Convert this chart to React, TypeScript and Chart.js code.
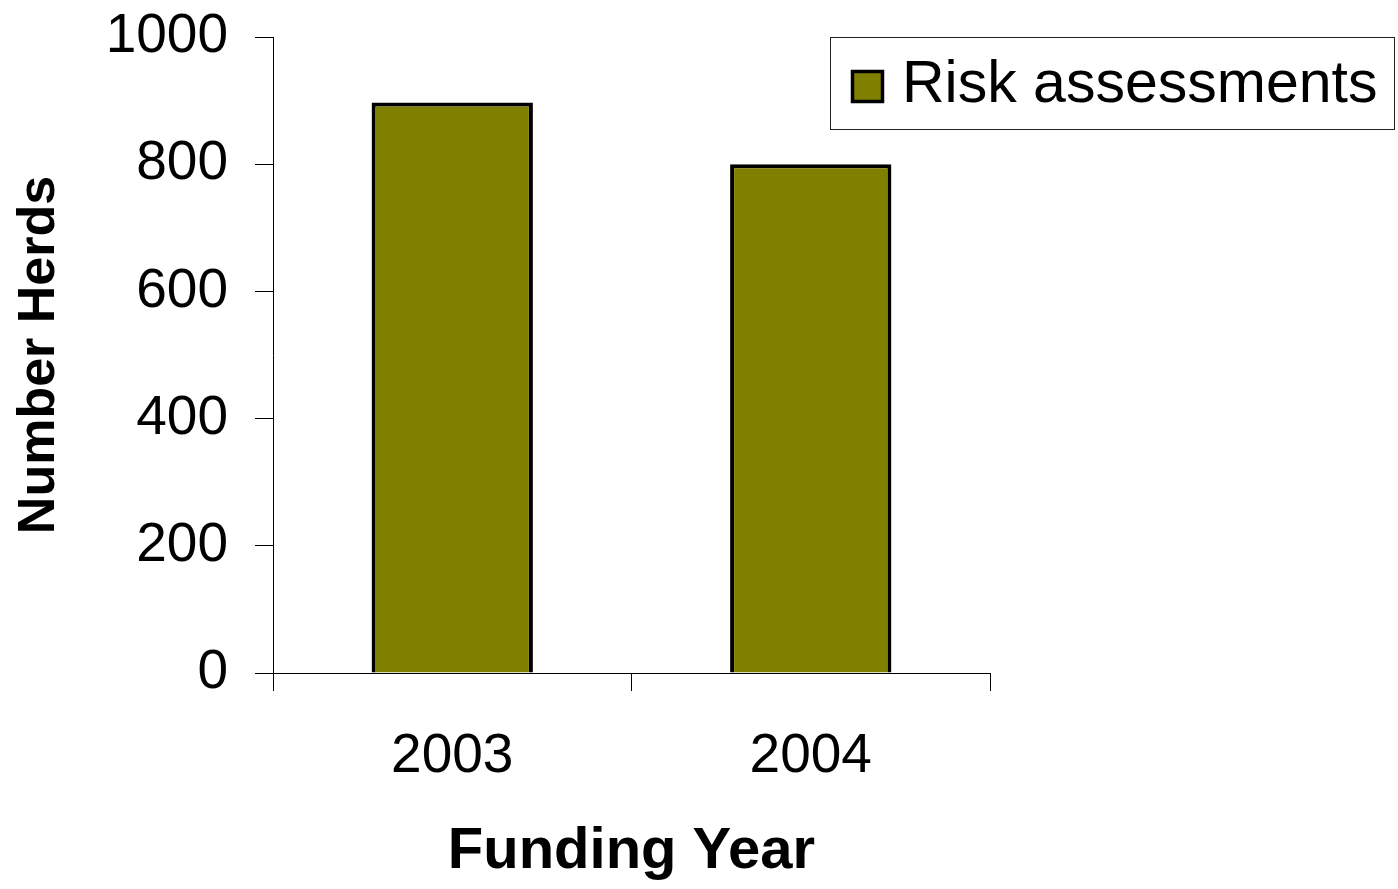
import React, { useEffect, useRef } from "react";
import { Chart, registerables } from "chart.js";

Chart.register(...registerables);

const categories = ["2003", "2004"];
const riskAssessments = [897, 800];
const seriesLabel = "Risk assessments";
const yTicks = [0, 200, 400, 600, 800, 1000];
const xTitle = "Funding Year";
const yTitle = "Number Herds";

const FONT = "'Liberation Sans', Arial, sans-serif";
const OLIVE = "#808000";

const boxLegend = {
  id: "boxLegend",
  afterDraw(chart: any) {
    const { ctx } = chart;
    const ds = chart.data.datasets[0];
    ctx.save();
    ctx.strokeStyle = "#222";
    ctx.lineWidth = 1;
    ctx.strokeRect(830.5, 37.5, 564, 92);
    ctx.fillStyle = ds.backgroundColor;
    ctx.fillRect(852, 71, 31, 31);
    ctx.strokeStyle = "#000";
    ctx.lineWidth = 3.5;
    ctx.strokeRect(852.5, 71.5, 30, 30);
    ctx.fillStyle = "#000";
    ctx.font = `59px ${FONT}`;
    ctx.textBaseline = "alphabetic";
    ctx.textAlign = "left";
    ctx.fillText(ds.label, 902, 102);
    ctx.restore();
  },
};

export default function App() {
  const ref = useRef<HTMLCanvasElement | null>(null);
  useEffect(() => {
    if (!ref.current) return;
    const chart = new Chart(ref.current, {
      type: "bar",
      data: {
        labels: categories,
        datasets: [
          {
            label: seriesLabel,
            data: riskAssessments,
            backgroundColor: OLIVE,
            borderColor: "#000",
            borderWidth: 4,
            barPercentage: 0.45,
            categoryPercentage: 1,
          },
        ],
      },
      options: {
        responsive: false,
        animation: false,
        layout: { padding: { top: 37, right: 408, bottom: 0, left: 0 } },
        plugins: { legend: { display: false }, tooltip: { enabled: false } },
        scales: {
          x: {
            grid: {
              drawOnChartArea: false,
              drawTicks: true,
              tickLength: 18,
              color: "#000",
              lineWidth: 1,
            },
            border: { display: true, color: "#000", width: 1 },
            ticks: {
              color: "#000",
              font: { family: FONT, size: 55 },
              padding: 33,
            },
            title: {
              display: true,
              text: xTitle,
              color: "#000",
              font: { family: FONT, size: 58, weight: "bold", lineHeight: 1 },
              padding: { top: 0, bottom: 8 },
            },
            afterFit(scale: any) {
              scale.height = 216;
              scale.paddingLeft = 0;
              scale.paddingRight = 0;
            },
          },
          y: {
            min: 0,
            max: 1000,
            afterBuildTicks(scale: any) {
              scale.ticks = yTicks.map((v) => ({ value: v }));
            },
            grid: {
              drawOnChartArea: false,
              drawTicks: true,
              tickLength: 18,
              color: "#000",
              lineWidth: 1,
            },
            border: { display: true, color: "#000", width: 1 },
            ticks: {
              color: "#000",
              font: { family: FONT, size: 55 },
              padding: 27,
              callback: (v: any) => String(v),
            },
            title: {
              display: true,
              text: yTitle,
              color: "#000",
              font: { family: FONT, size: 52, weight: "bold", lineHeight: 1 },
              padding: { top: 14, bottom: 0 },
            },
            afterFit(scale: any) {
              scale.width = 273;
              scale.paddingTop = 0;
              scale.paddingBottom = 0;
            },
          },
        },
      },
      plugins: [boxLegend],
    });
    return () => chart.destroy();
  }, []);
  return (
    <div style={{ position: "fixed", left: 0, top: 0, width: 1398, height: 889, background: "#fff" }}>
      <canvas ref={ref} width={1398} height={889} />
    </div>
  );
}
